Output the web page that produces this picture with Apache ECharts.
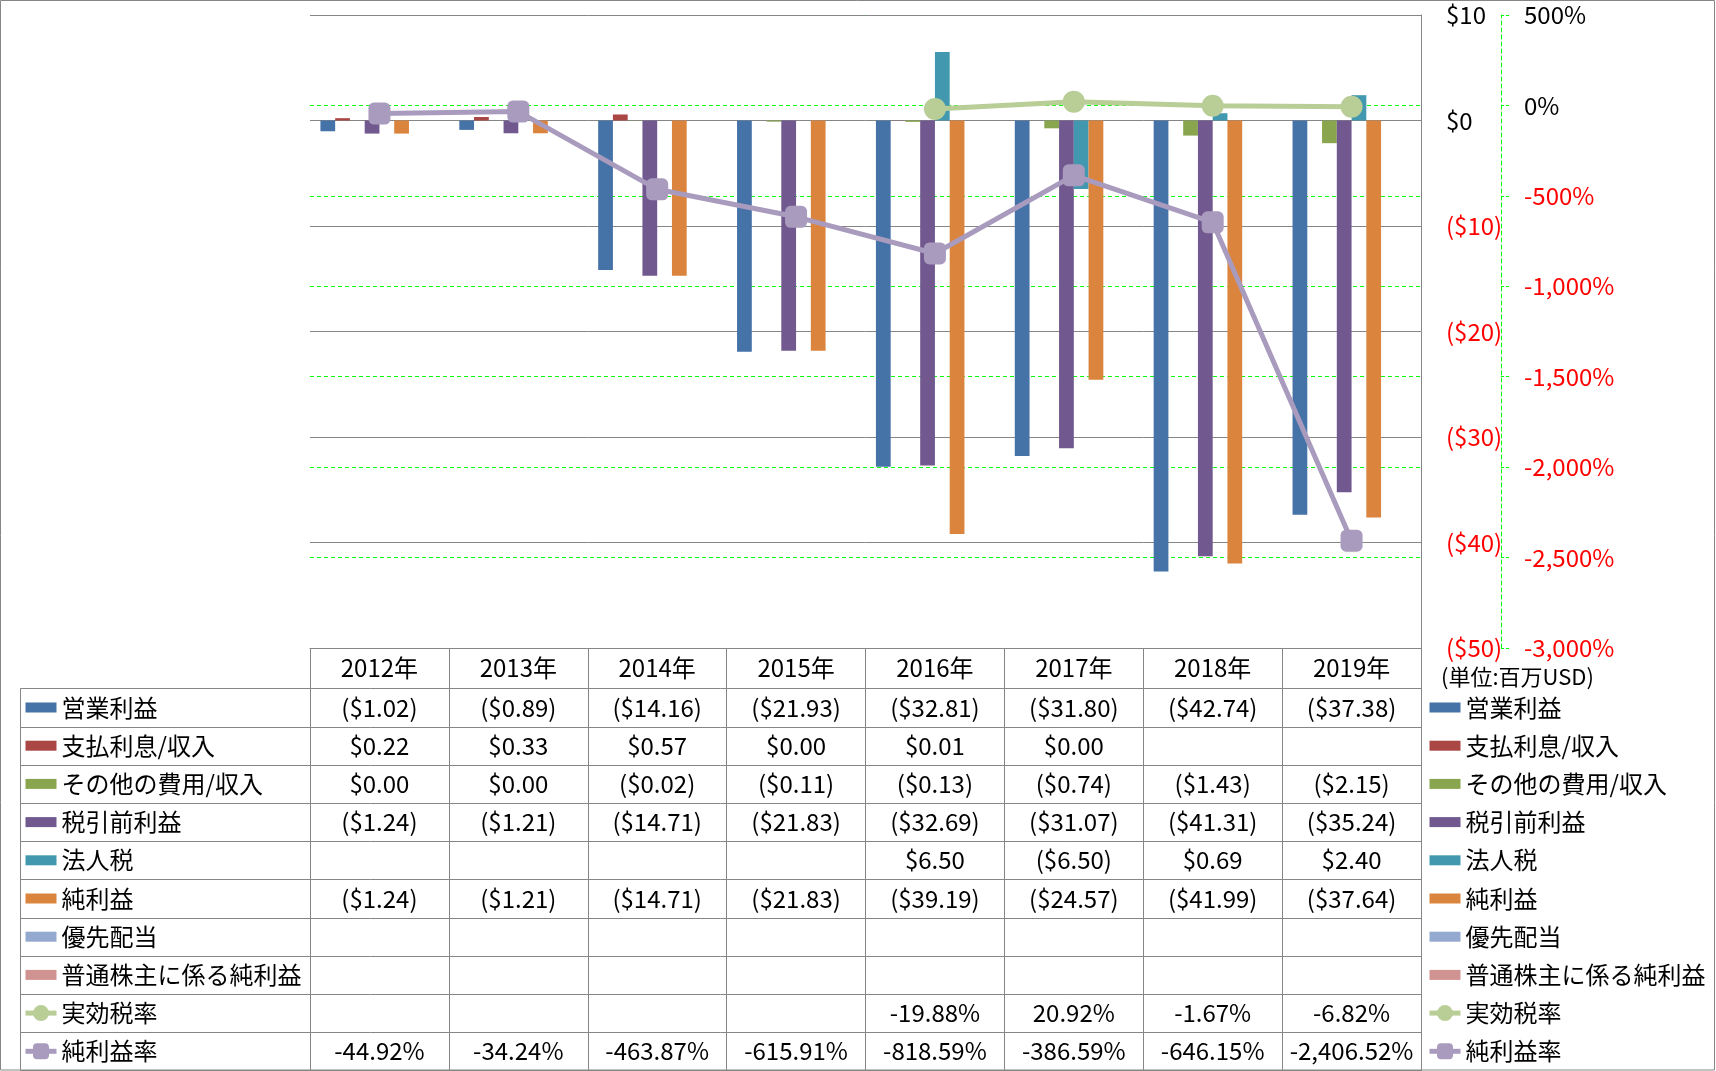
<!DOCTYPE html>
<html>
<head>
<meta charset="utf-8">
<script src="https://cdn.jsdelivr.net/npm/echarts@6/dist/echarts.min.js"></script>
<style>
html,body{margin:0;padding:0;background:#fff;}
#chart{width:1716px;height:1071px;}
</style>
</head>
<body>
<div id="chart"></div>
<script>
// ---- data ----
var years = ['2012年','2013年','2014年','2015年','2016年','2017年','2018年','2019年'];
var opIncome   = [-1.02, -0.89, -14.16, -21.93, -32.81, -31.80, -42.74, -37.38];
var interest   = [0.22, 0.33, 0.57, 0.00, 0.01, 0.00, null, null];
var otherExp   = [0.00, 0.00, -0.02, -0.11, -0.13, -0.74, -1.43, -2.15];
var pretax     = [-1.24, -1.21, -14.71, -21.83, -32.69, -31.07, -41.31, -35.24];
var corpTax    = [null, null, null, null, 6.50, -6.50, 0.69, 2.40];
var netIncome  = [-1.24, -1.21, -14.71, -21.83, -39.19, -24.57, -41.99, -37.64];
var preferred  = [null, null, null, null, null, null, null, null];
var commonNet  = [null, null, null, null, null, null, null, null];
var taxRate    = [null, null, null, null, -19.88, 20.92, -1.67, -6.82];
var netMargin  = [-44.92, -34.24, -463.87, -615.91, -818.59, -386.59, -646.15, -2406.52];
var dollarTicks = {min: -50, max: 10, interval: 10};
var pctTicks = {min: -3000, max: 500, interval: 500};
var unitLabel = '(単位:百万USD)';

var names = ['営業利益','支払利息/収入','その他の費用/収入','税引前利益','法人税','純利益','優先配当','普通株主に係る純利益','実効税率','純利益率'];
var colors = ['#4572A7','#AA4643','#89A54E','#71588F','#4198AF','#DB843D','#93A9CF','#D19392','#B9CD96','#A99BBD'];

// ---- helpers ----
function money(v){
  if (v === null || v === undefined) return '';
  return v < 0 ? '($' + (-v).toFixed(2) + ')' : '$' + v.toFixed(2);
}
function pct(v){
  if (v === null || v === undefined) return '';
  return v.toLocaleString('en-US',{minimumFractionDigits:2, maximumFractionDigits:2}) + '%';
}
var FONT = 'Noto Sans CJK JP';
var GRAY = '#868686';
var GREEN = '#00FF00';

var barData = [opIncome, interest, otherExp, pretax, corpTax, netIncome, preferred, commonNet];
var rows = [
  opIncome.map(money), interest.map(money), otherExp.map(money), pretax.map(money),
  corpTax.map(money), netIncome.map(money), preferred.map(money), commonNet.map(money),
  taxRate.map(pct), netMargin.map(pct)
];

// layout constants
var plotTop = 15, plotBottom = 648, plotLeft = 310, plotRight = 1421;
var rowTop = 688.3, rowH = 38.2, labelColLeft = 20.5;

var series = [];
barData.forEach(function(d, i){
  series.push({
    name: names[i], type: 'bar', data: d,
    xAxisIndex: 0, yAxisIndex: 0,
    barGap: '0%', barCategoryGap: '15%',
    itemStyle: {color: colors[i]}
  });
});
series.push({
  name: names[8], type: 'line', data: taxRate, yAxisIndex: 1,
  symbol: 'circle', symbolSize: 22,
  lineStyle: {width: 5, color: colors[8]},
  itemStyle: {color: colors[8]}
});
series.push({
  name: names[9], type: 'line', data: netMargin, yAxisIndex: 1,
  symbol: 'roundRect', symbolSize: 22,
  lineStyle: {width: 5, color: colors[9]},
  itemStyle: {color: colors[9]}
});

var xAxes = [{
  type: 'category', data: years, gridIndex: 0, position: 'bottom', z: 3,
  axisLine: {show: true, onZero: false, lineStyle: {color: GRAY, width: 1}},
  axisTick: {show: true, interval: 0, length: 1071 - plotBottom, lineStyle: {color: GRAY, width: 1}},
  axisLabel: {interval: 0, margin: 20, verticalAlign: 'middle', fontSize: 24, color: '#000', fontFamily: FONT},
  splitLine: {show: false}
}];
rows.forEach(function(r, i){
  xAxes.push({
    type: 'category', data: years, gridIndex: 0, position: 'bottom',
    axisLine: {show: false, onZero: false},
    axisTick: {show: false},
    splitLine: {show: false},
    axisLabel: {
      interval: 0, margin: (rowTop - plotBottom) + rowH * i + rowH / 2,
      verticalAlign: 'middle', fontSize: 24, color: '#000', fontFamily: FONT,
      formatter: (function(rr){ return function(v, idx){ return rr[idx]; }; })(r)
    }
  });
});

var legendData = names.map(function(n, i){
  if (i < 8) return {name: n, icon: 'path://M0,0M0,5h31v10h-31zM31,20'};
  return {name: n, lineStyle: {width: 5, color: colors[i]}, itemStyle: {color: colors[i]}};
});
function makeLegend(left){
  return {
    orient: 'vertical', left: left, top: rowTop + 7.2, padding: 0,
    itemWidth: 31, itemHeight: 20, itemGap: rowH - 24,
    selectedMode: false,
    textStyle: {fontSize: 24, lineHeight: 24, color: '#000', fontFamily: FONT},
    data: legendData
  };
}

var graphics = [
  {type: 'rect', shape: {x: 0.5, y: 0.5, width: 1714, height: 1069.5}, style: {fill: 'none', stroke: GRAY, lineWidth: 1}, silent: true},
  {type: 'line', shape: {x1: labelColLeft, y1: rowTop, x2: labelColLeft, y2: rowTop + rowH * 10}, style: {stroke: GRAY, lineWidth: 1}, silent: true}
];
for (var k = 0; k <= 10; k++) {
  var yy = Math.round(rowTop + rowH * k) + 0.5;
  graphics.push({type: 'line', shape: {x1: labelColLeft, y1: yy, x2: plotRight, y2: yy}, style: {stroke: GRAY, lineWidth: 1}, silent: true});
}

var option = {
  animation: false,
  backgroundColor: '#fff',
  textStyle: {fontFamily: FONT},
  title: {
    text: unitLabel, left: 1441, top: 666, padding: 0,
    textStyle: {fontSize: 22, fontWeight: 'normal', color: '#000', fontFamily: FONT, lineHeight: 22}
  },
  grid: {left: plotLeft, right: 1716 - plotRight, top: plotTop, bottom: 1071 - plotBottom, containLabel: false},
  legend: [makeLegend(23), makeLegend(1427)],
  xAxis: xAxes,
  yAxis: [{
    type: 'value', position: 'right', min: dollarTicks.min, max: dollarTicks.max, interval: dollarTicks.interval,
    z: 2,
    axisLine: {show: true, lineStyle: {color: GRAY, width: 1}},
    axisTick: {show: false},
    splitLine: {show: true, lineStyle: {color: GRAY, width: 1}},
    axisLabel: {
      margin: 25, fontSize: 24, fontFamily: FONT,
      color: function(v){ return Number(v) < 0 ? '#FF0000' : '#000'; },
      formatter: function(v){ return v < 0 ? '($' + (-v) + ')' : '$' + v; }
    }
  }, {
    type: 'value', position: 'right', offset: 80, min: pctTicks.min, max: pctTicks.max, interval: pctTicks.interval,
    z: 1,
    axisLine: {show: true, lineStyle: {color: GREEN, width: 1, type: [4, 3]}},
    axisTick: {show: true, length: 8, lineStyle: {color: GREEN, width: 1, type: [3, 2]}},
    splitLine: {show: true, lineStyle: {color: GREEN, width: 1, type: [4, 3]}},
    axisLabel: {
      margin: 23, fontSize: 24, fontFamily: FONT,
      color: function(v){ return Number(v) < 0 ? '#FF0000' : '#000'; },
      formatter: function(v){ return (v < 0 ? '-' : '') + Math.abs(v).toLocaleString('en-US') + '%'; }
    }
  }],
  series: series,
  graphic: graphics
};

var chart = echarts.init(document.getElementById('chart'), null, {renderer: 'canvas'});
chart.setOption(option);
</script>
</body>
</html>
